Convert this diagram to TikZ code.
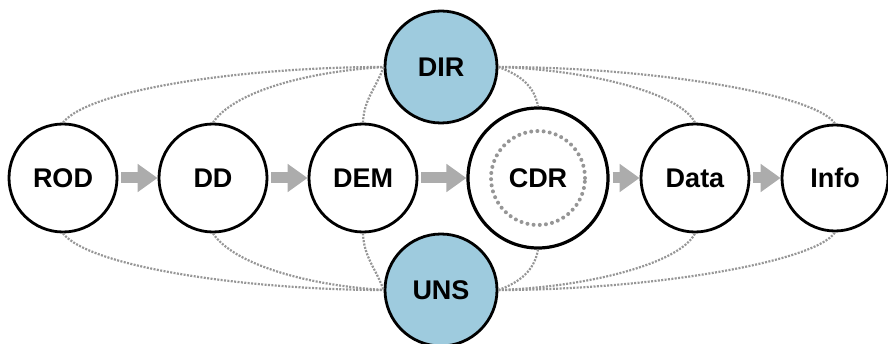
\documentclass[tikz,border=0pt]{standalone}
\usepackage{fontspec}
\newfontfamily\labfont{Liberation Sans}
\usetikzlibrary{arrows.meta}
\definecolor{bluefill}{RGB}{158,203,222}
\definecolor{linkgray}{RGB}{150,150,150}
\definecolor{arrowgray}{RGB}{172,172,172}
\begin{document}
\begin{tikzpicture}[x=1pt,y=1pt,
  stage/.style={circle,draw=black,line width=2.8pt,fill=white,minimum size=108pt,inner sep=0pt,
    font=\labfont\bfseries\fontsize{27}{27}\selectfont},
  hub/.style={stage,fill=bluefill,minimum size=112pt},
  link/.style={draw=linkgray,line width=2.2pt,dash pattern=on 2pt off 1.4pt},
  flow/.style={draw=arrowgray,line width=11pt,shorten <=3pt,-{Triangle[length=20pt,width=27pt]}}]
\useasboundingbox (0,0) rectangle (888,343);
\node[stage] (ROD) at (63,165) {ROD};
\node[stage] (DD) at (213,165) {DD};
\node[stage] (DEM) at (363,165) {DEM};
\node[stage,minimum size=140pt,line width=3.2pt] (CDR) at (538,165) {CDR};
\node[stage] (Data) at (695,165) {Data};
\node[stage,minimum size=106pt] (Info) at (835,165) {Info};
\node[hub] (DIR) at (441,276) {DIR};
\node[hub] (UNS) at (441,53) {UNS};
% links to DIR
\draw[link] (ROD.north) .. controls +(27,34) and +(-135,0) .. (DIR.west);
\draw[link] (DD.north) .. controls +(20,30) and +(-80,-5) .. (DIR.west);
\draw[link] (DEM.north) to[out=88,in=250] (DIR.west);
\draw[link] (DIR.east) to[out=-20,in=100] (CDR.north);
\draw[link] (DIR.east) .. controls +(90,-3) and +(-15,30) .. (Data.north);
\draw[link] (DIR.east) .. controls +(150,0) and +(-20,30) .. (Info.north);
% links to UNS
\draw[link] (ROD.south) .. controls +(27,-34) and +(-135,0) .. (UNS.west);
\draw[link] (DD.south) .. controls +(20,-30) and +(-80,5) .. (UNS.west);
\draw[link] (DEM.south) to[out=-88,in=110] (UNS.west);
\draw[link] (UNS.east) to[out=20,in=-100] (CDR.south);
\draw[link] (UNS.east) .. controls +(90,3) and +(-15,-30) .. (Data.south);
\draw[link] (UNS.east) .. controls +(150,0) and +(-20,-30) .. (Info.south);
% inner dotted ring
\draw[draw=linkgray,line width=4pt,line cap=round,dash pattern=on 0pt off 6.2pt] (CDR.center) circle[radius=47pt];
% flow arrows
\draw[flow] (ROD) -- (DD);
\draw[flow] (DD) -- (DEM);
\draw[flow] (DEM) -- (CDR);
\draw[flow] (CDR) -- (Data);
\draw[flow] (Data) -- (Info);
\end{tikzpicture}
\end{document}
